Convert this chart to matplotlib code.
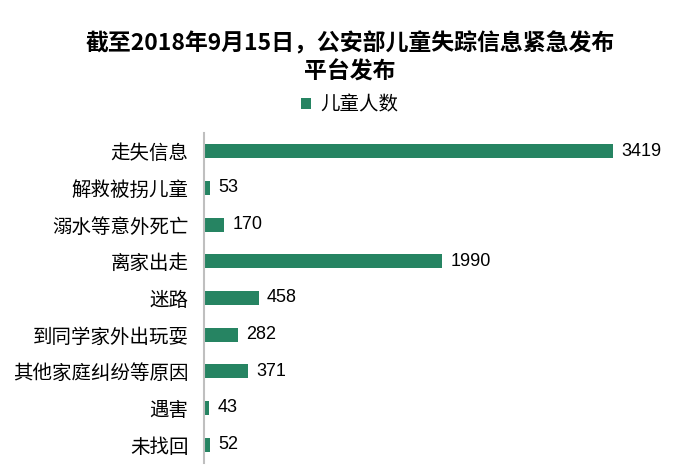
import matplotlib.pyplot as plt
import numpy as np

categories = ["走失信息", "解救被拐儿童", "溺水等意外死亡", "离家出走", "迷路",
              "到同学家外出玩耍", "其他家庭纠纷等原因", "遇害", "未找回"]
values = [3419, 53, 170, 1990, 458, 282, 371, 43, 52]
series_name = "儿童人数"
title = "截至2018年9月15日，公安部儿童失踪信息紧急发布\n平台发布"

plt.rcParams["font.family"] = ["Noto Sans CJK SC", "DejaVu Sans"]
green = "#268462"

fig = plt.figure(figsize=(7, 4.7), dpi=100)
ax = fig.add_axes([204 / 700, 1 - 463 / 470, 478 / 700, 330 / 470])

y = np.arange(len(categories))
bars = ax.barh(y, values, height=0.38, color=green, label=series_name)
ax.set_ylim(len(categories) - 0.5, -0.5)
ax.set_xlim(0, 4000)
ax.set_yticks(y)
ax.set_yticklabels(categories, fontsize=14)
ax.tick_params(axis="y", length=0, pad=11)
ax.set_xticks([])
for s in ["top", "right", "bottom"]:
    ax.spines[s].set_visible(False)
ax.spines["left"].set_color("#bfbfbf")
ax.spines["left"].set_linewidth(1.5)

for yi, v in zip(y, values):
    ax.text(v + 70, yi, str(v), va="center", ha="left", fontsize=13,
            family=["Liberation Sans", "DejaVu Sans"])

fig.text(0.5, 1 - 58 / 470, title, ha="center", va="center", fontsize=16.5,
         fontweight="bold", linespacing=1.3)
fig.legend(loc="center", bbox_to_anchor=(0.5, 1 - 105 / 470), frameon=False,
           fontsize=14, handlelength=0.5, handleheight=0.5, handletextpad=0.5)

fig.savefig("out.png", dpi=100)
